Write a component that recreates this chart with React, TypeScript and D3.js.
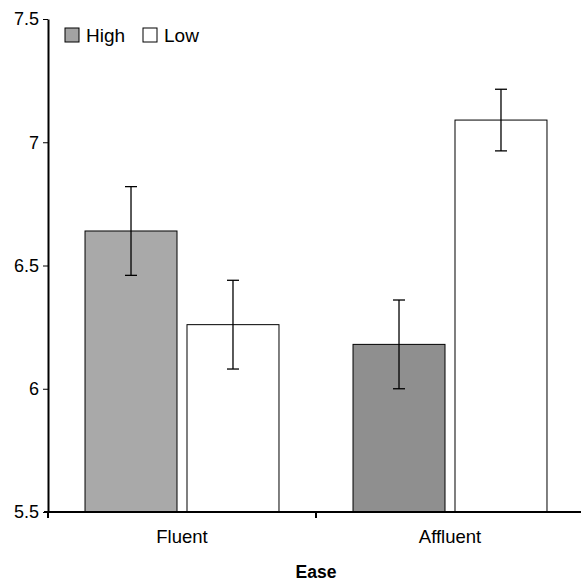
import React, { useEffect, useRef } from "react";
import * as d3 from "d3";

// chart values
const categories = ["Fluent", "Affluent"];
const series = ["High", "Low"];
const highMeans = [6.64, 6.18];
const lowMeans = [6.26, 7.09];
const highErr = [0.18, 0.18];
const lowErr = [0.18, 0.125];
const yTicks = [5.5, 6, 6.5, 7, 7.5];

const W = 581;
const H = 583;
const margin = { top: 19, right: -3, bottom: 71, left: 48 };

// fill for each high bar (one per category), low bars are white
const highFill = ["#a9a9a9", "#8f8f8f"];
const legendFill = ["#a3a3a3", "#ffffff"];

const App = () => {
  const ref = useRef<SVGSVGElement>(null);

  useEffect(() => {
    const svg = d3.select(ref.current);
    svg.selectAll("*").remove();

    const font = "'Liberation Sans', Arial, sans-serif";
    const x0 = d3.scaleBand().domain(categories).range([margin.left, W - margin.right]).padding(0);
    const x1 = d3
      .scaleBand()
      .domain(series)
      .range([0, x0.bandwidth()])
      .paddingInner(10 / 102)
      .paddingOuter(0.363);
    const y = d3.scaleLinear().domain([5.5, 7.5]).range([H - margin.bottom, margin.top]);

    const rows = categories.map((c, i) => [
      { cat: c, s: "High", v: highMeans[i], e: highErr[i], fill: highFill[i] },
      { cat: c, s: "Low", v: lowMeans[i], e: lowErr[i], fill: "#ffffff" },
    ]).flat();

    const bars = svg.append("g");
    bars.selectAll("rect")
      .data(rows)
      .enter().append("rect")
      .attr("x", (d) => x0(d.cat)! + x1(d.s)!)
      .attr("y", (d) => y(d.v))
      .attr("width", x1.bandwidth())
      .attr("height", (d) => y(5.5) - y(d.v))
      .attr("fill", (d) => d.fill)
      .attr("stroke", "#000")
      .attr("stroke-width", 1);

    // error bars
    const err = svg.append("g").attr("stroke", "#000").attr("stroke-width", 1.3);
    rows.forEach((d) => {
      const cx = x0(d.cat)! + x1(d.s)! + x1.bandwidth() / 2;
      err.append("line").attr("x1", cx).attr("x2", cx).attr("y1", y(d.v + d.e)).attr("y2", y(d.v - d.e));
      err.append("line").attr("x1", cx - 6).attr("x2", cx + 6).attr("y1", y(d.v + d.e)).attr("y2", y(d.v + d.e));
      err.append("line").attr("x1", cx - 6).attr("x2", cx + 6).attr("y1", y(d.v - d.e)).attr("y2", y(d.v - d.e));
    });

    // y axis
    const yAxis = svg.append("g")
      .attr("transform", `translate(${margin.left},0)`)
      .call(d3.axisLeft(y).tickValues(yTicks).tickFormat((d) => String(d)).tickSize(5).tickSizeOuter(0));
    yAxis.select(".domain").attr("stroke-width", 2);
    yAxis.selectAll("text").attr("font-family", font).attr("font-size", 18).attr("fill", "#000").attr("dx", "-1");

    // x axis
    const baseY = y(5.5);
    const xAxis = svg.append("g");
    xAxis.append("line")
      .attr("x1", margin.left - 4).attr("x2", W)
      .attr("y1", baseY).attr("y2", baseY)
      .attr("stroke", "#000").attr("stroke-width", 2);
    const edges = [x0(categories[0])!, ...categories.map((c) => x0(c)! + x0.bandwidth())];
    xAxis.selectAll("line.tick")
      .data(edges)
      .enter().append("line")
      .attr("class", "tick")
      .attr("x1", (d) => d).attr("x2", (d) => d)
      .attr("y1", baseY).attr("y2", baseY + 6)
      .attr("stroke", "#000").attr("stroke-width", 2);
    xAxis.selectAll("text")
      .data(categories)
      .enter().append("text")
      .attr("x", (d) => x0(d)! + x0.bandwidth() / 2)
      .attr("y", baseY + 31)
      .attr("text-anchor", "middle")
      .attr("font-family", font)
      .attr("font-size", 18.5)
      .text((d) => d);

    svg.append("text")
      .attr("x", margin.left + x0.bandwidth())
      .attr("y", 578)
      .attr("text-anchor", "middle")
      .attr("font-family", font)
      .attr("font-size", 17.5)
      .attr("font-weight", "bold")
      .text("Ease");

    // legend
    const legend = svg.append("g");
    const lx = [65, 143];
    series.forEach((s, i) => {
      legend.append("rect")
        .attr("x", lx[i]).attr("y", 28)
        .attr("width", 14).attr("height", 14)
        .attr("fill", legendFill[i])
        .attr("stroke", "#000").attr("stroke-width", 1);
      legend.append("text")
        .attr("x", lx[i] + 21).attr("y", 42)
        .attr("font-family", font)
        .attr("font-size", 19)
        .text(s);
    });
  }, []);

  return (
    <svg
      ref={ref}
      width={W}
      height={H}
      style={{ position: "absolute", left: 0, top: 0, background: "#fff" }}
    />
  );
};

export default App;
